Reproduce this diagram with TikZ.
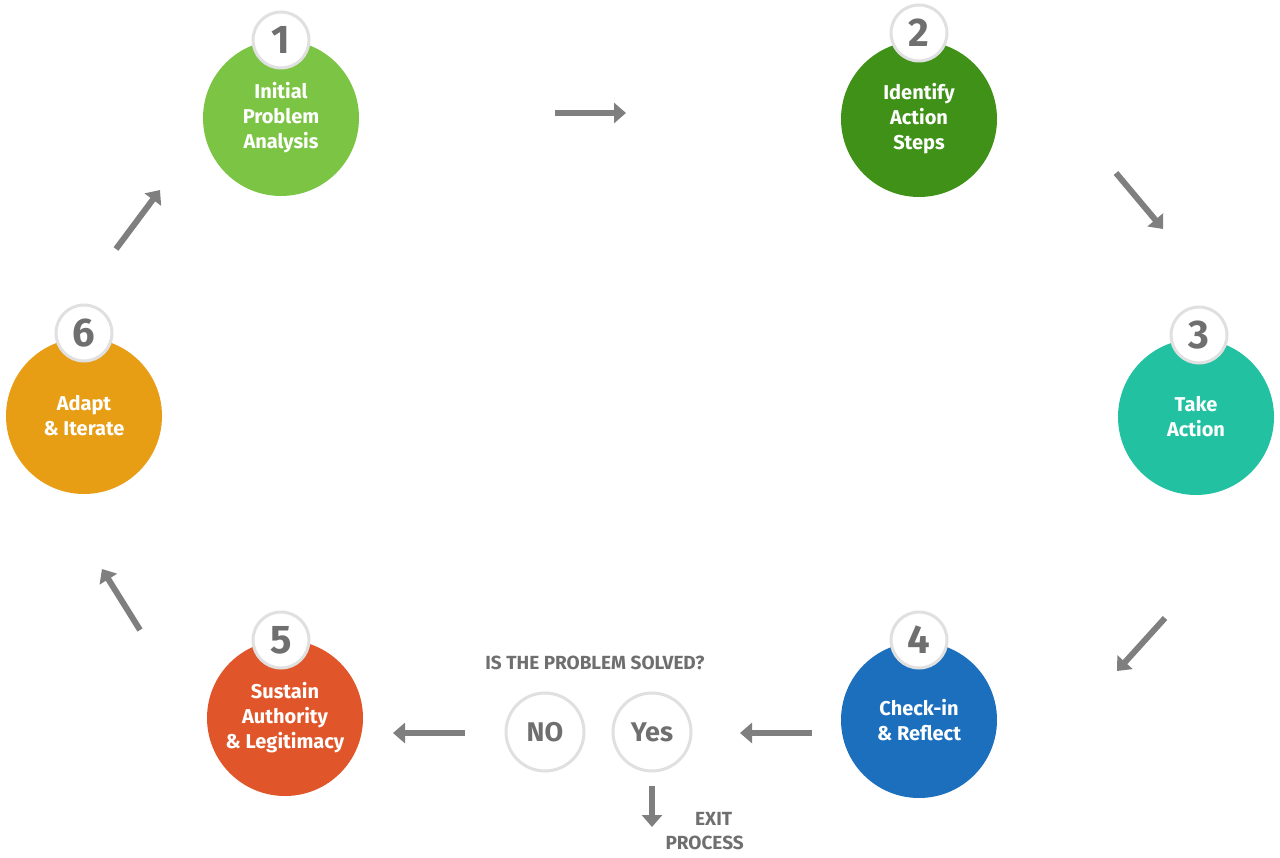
\documentclass[tikz,border=0pt]{standalone}
\usepackage{fontspec}
\setmainfont{Fira Sans}
\usetikzlibrary{arrows.meta}
\definecolor{cA}{HTML}{7CC444}
\definecolor{cB}{HTML}{3F9117}
\definecolor{cC}{HTML}{21C1A1}
\definecolor{cD}{HTML}{1C6FBD}
\definecolor{cE}{HTML}{E0562A}
\definecolor{cF}{HTML}{E79D14}
\definecolor{ag}{HTML}{7F7F7F}
\definecolor{tg}{HTML}{6F6F6F}
\begin{document}
\begin{tikzpicture}[x=1pt,y=-1pt,
 stage/.style={circle,minimum size=156pt,inner sep=0pt,text=white,font=\fontsize{20}{25}\selectfont\bfseries,align=center},
 badge/.style={circle,fill=white,draw=black!12,line width=3pt,minimum size=56pt,inner sep=0pt,text=tg,font=\fontsize{40}{40}\selectfont\bfseries},
 ans/.style={circle,fill=white,draw=black!12,line width=3pt,minimum size=78pt,inner sep=0pt,text=tg,font=\fontsize{27}{27}\selectfont\bfseries},
 arr/.style={ag,line width=6pt,-{Triangle[length=12pt,width=20pt]}},
 lbl/.style={text=tg,font=\fontsize{19}{24}\selectfont\bfseries,align=center}]
\useasboundingbox (0,0) rectangle (1280,858);
\node[stage,fill=cA] (s1) at (281,118) {Initial\\Problem\\Analysis};
\node[stage,fill=cB] (s2) at (919,119) {Identify\\Action\\Steps};
\node[stage,fill=cC] (s3) at (1196,417) {Take\\Action};
\node[stage,fill=cD] (s4) at (919,720) {Check-in\\\& Reflect};
\node[stage,fill=cE] (s5) at (285,718) {Sustain\\Authority\\\& Legitimacy};
\node[stage,fill=cF] (s6) at (84,416) {Adapt\\\& Iterate};
\node[badge] (b1) at (281,40) {1};
\node[badge] (b2) at (919,33) {2};
\node[badge] (b3) at (1199,335) {3};
\node[badge] (b4) at (919,640) {4};
\node[badge] (b5) at (281,640) {5};
\node[badge] (b6) at (84,333) {6};
\node[ans] (no) at (545,732) {NO};
\node[ans] (yes) at (652,732) {Yes};
\node[lbl] (q) at (595,663) {IS THE PROBLEM SOLVED?};
\node[lbl,anchor=west] (exit) at (662,831) {\hspace*{18pt}EXIT\\PROCESS};
\coordinate (a1) at (555,113); \coordinate (a2) at (626,113);
\coordinate (b1a) at (1116,173); \coordinate (b2a) at (1163,229);
\coordinate (c1) at (1165,618); \coordinate (c2) at (1117,671);
\coordinate (d1) at (812,733); \coordinate (d2) at (740,733);
\coordinate (e1) at (465,733); \coordinate (e2) at (393,733);
\coordinate (f1) at (140,630); \coordinate (f2) at (102,569);
\coordinate (g1) at (116,249); \coordinate (g2) at (160,190);
\coordinate (h1) at (652,786); \coordinate (h2) at (652,827);
\draw[arr] (a1) -- (a2);
\draw[arr] (b1a) -- (b2a);
\draw[arr] (c1) -- (c2);
\draw[arr] (d1) -- (d2);
\draw[arr] (e1) -- (e2);
\draw[arr] (f1) -- (f2);
\draw[arr] (g1) -- (g2);
\draw[arr] (h1) -- (h2);
\end{tikzpicture}
\end{document}
